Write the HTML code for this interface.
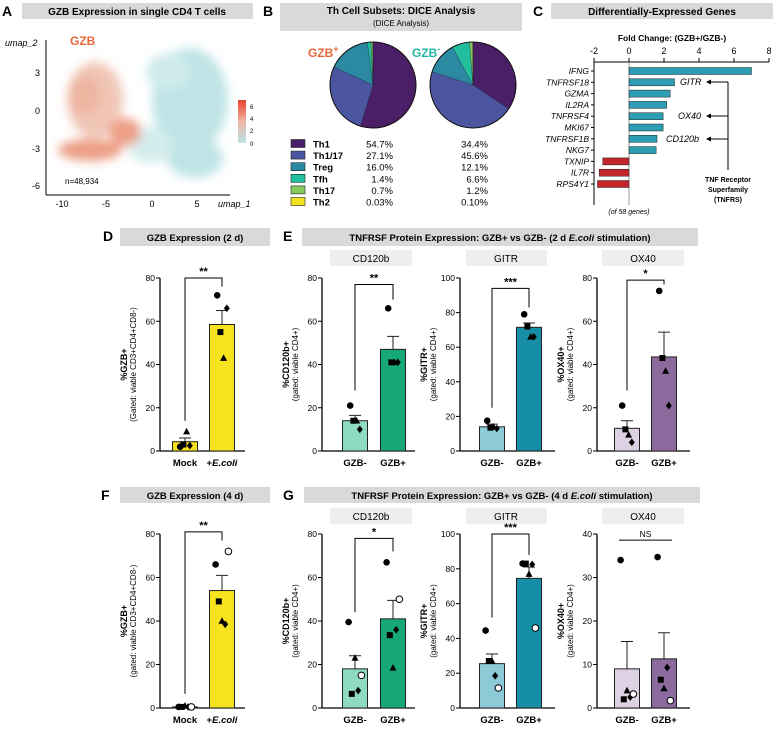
<!DOCTYPE html>
<html><head><meta charset="utf-8"><style>
html,body{margin:0;padding:0;background:#fff}
svg{display:block;font-family:"Liberation Sans",sans-serif}
</style></head><body>
<svg id="fig" width="780" height="729" viewBox="0 0 780 729" xmlns="http://www.w3.org/2000/svg">
<defs>
<filter id="blur" x="-30%" y="-30%" width="160%" height="160%"><feGaussianBlur stdDeviation="5"/></filter>
<linearGradient id="cbar" x1="0" y1="0" x2="0" y2="1"><stop offset="0" stop-color="#e8412c"/><stop offset="0.5" stop-color="#eeb5a4"/><stop offset="1" stop-color="#b9e3e6"/></linearGradient>
</defs>
<!-- Panel A -->
<text x="2" y="16" font-size="14" font-weight="bold">A</text>
<rect x="22" y="3" width="231" height="16" fill="#d9d9d9"/>
<text x="137" y="15" font-size="10" font-weight="bold" text-anchor="middle">GZB Expression in single CD4 T cells</text>
<g filter="url(#blur)">
<ellipse cx="190" cy="100" rx="38" ry="52" fill="#bfe4e6"/>
<ellipse cx="168" cy="72" rx="22" ry="18" fill="#cfeaeb"/>
<ellipse cx="195" cy="158" rx="28" ry="20" fill="#bfe4e6"/>
<ellipse cx="150" cy="145" rx="22" ry="18" fill="#d4ecec"/>
<ellipse cx="95" cy="100" rx="28" ry="38" fill="#f0c6b6"/>
<ellipse cx="90" cy="150" rx="32" ry="11" fill="#ec9f86"/>
<ellipse cx="125" cy="132" rx="16" ry="14" fill="#ee9f86"/>
<ellipse cx="85" cy="95" rx="16" ry="20" fill="#eeb5a0"/>
</g>
<line x1="46" y1="40" x2="46" y2="195" stroke="#000"/>
<line x1="46" y1="195" x2="230" y2="195" stroke="#000"/>
<g font-size="9" text-anchor="end">
<text x="40" y="76">3</text><text x="40" y="114">0</text><text x="40" y="152">-3</text><text x="40" y="189">-6</text></g>
<g font-size="9" text-anchor="middle">
<text x="62" y="207">-10</text><text x="106" y="207">-5</text><text x="152" y="207">0</text><text x="197" y="207">5</text></g>
<text x="5" y="46" font-size="9" font-style="italic">umap_2</text>
<text x="218" y="207" font-size="9" font-style="italic">umap_1</text>
<text x="70" y="45" font-size="12" font-weight="bold" fill="#e8663c">GZB</text>
<text x="65" y="184" font-size="8">n=48,934</text>
<rect x="238" y="100" width="8" height="43" fill="url(#cbar)"/>
<g font-size="6"><text x="250" y="109">6</text><text x="250" y="121">4</text><text x="250" y="133">2</text><text x="250" y="146">0</text></g>
<!-- Panel B -->
<text x="263" y="16" font-size="14" font-weight="bold">B</text>
<rect x="280" y="3" width="242" height="28" fill="#d9d9d9"/>
<text x="401" y="14" font-size="10" font-weight="bold" text-anchor="middle">Th Cell Subsets: DICE Analysis</text>
<text x="401" y="26" font-size="8" text-anchor="middle">(DICE Analysis)</text>
<text x="308" y="57" font-size="12" font-weight="bold" fill="#e8663c">GZB<tspan dy="-5" font-size="9">+</tspan></text>
<text x="412" y="57" font-size="12" font-weight="bold" fill="#1fb5a0">GZB<tspan dy="-5" font-size="9">-</tspan></text>
<g id="pies"></g>
<g id="legend"></g>
<!-- Panel C -->
<text x="533" y="16" font-size="14" font-weight="bold">C</text>
<rect x="551" y="3" width="222" height="16" fill="#d9d9d9"/>
<text x="662" y="15" font-size="10" font-weight="bold" text-anchor="middle">Differentially-Expressed Genes</text>
<text x="672" y="41" font-size="8.5" font-weight="bold" text-anchor="middle">Fold Change: (GZB+/GZB-)</text>
<g id="cchart"></g>
<text x="629" y="214" font-size="7" font-style="italic" text-anchor="middle">(of 58 genes)</text>
<g font-size="9" font-style="italic">
<text x="680" y="85">GITR</text><text x="678" y="119">OX40</text><text x="666" y="142">CD120b</text>
<line x1="728" y1="82" x2="728" y2="170" stroke="#000"/>
<line x1="728" y1="82" x2="710" y2="82" stroke="#000"/><path d="M706,82 l5,-2.5 v5z"/>
<line x1="728" y1="116" x2="710" y2="116" stroke="#000"/><path d="M706,116 l5,-2.5 v5z"/>
<line x1="728" y1="139" x2="710" y2="139" stroke="#000"/><path d="M706,139 l5,-2.5 v5z"/>
<g font-style="normal" font-weight="bold" font-size="7" text-anchor="middle"><text x="728" y="182">TNF Receptor</text><text x="728" y="192">Superfamily</text><text x="728" y="202">(TNFRS)</text></g>
</g>
<!-- D/E -->
<text x="103" y="241" font-size="14" font-weight="bold">D</text>
<rect x="120" y="228" width="150" height="18" fill="#d9d9d9"/>
<text x="195" y="241" font-size="9.5" font-weight="bold" text-anchor="middle">GZB Expression (2 d)</text>
<text x="283" y="241" font-size="14" font-weight="bold">E</text>
<rect x="302" y="228" width="396" height="18" fill="#d9d9d9"/>
<text x="500" y="241" font-size="9.5" font-weight="bold" text-anchor="middle">TNFRSF Protein Expression: GZB+ vs GZB- (2 d <tspan font-style="italic">E.coli</tspan> stimulation)</text>
<rect x="330" y="250" width="82" height="16" fill="#eeeeee"/>
<text x="371" y="262" font-size="10" text-anchor="middle">CD120b</text>
<rect x="466" y="250" width="81" height="16" fill="#eeeeee"/>
<text x="506" y="262" font-size="10" text-anchor="middle">GITR</text>
<rect x="602" y="250" width="82" height="16" fill="#eeeeee"/>
<text x="643" y="262" font-size="10" text-anchor="middle">OX40</text>
<!-- F/G -->
<text x="101" y="500" font-size="14" font-weight="bold">F</text>
<rect x="120" y="487" width="150" height="16" fill="#d9d9d9"/>
<text x="195" y="499" font-size="9.5" font-weight="bold" text-anchor="middle">GZB Expression (4 d)</text>
<text x="283" y="500" font-size="14" font-weight="bold">G</text>
<rect x="304" y="487" width="396" height="16" fill="#d9d9d9"/>
<text x="502" y="499" font-size="9.5" font-weight="bold" text-anchor="middle">TNFRSF Protein Expression: GZB+ vs GZB- (4 d <tspan font-style="italic">E.coli</tspan> stimulation)</text>
<rect x="330" y="508" width="82" height="16" fill="#eeeeee"/>
<text x="371" y="520" font-size="10" text-anchor="middle">CD120b</text>
<rect x="466" y="508" width="81" height="16" fill="#eeeeee"/>
<text x="506" y="520" font-size="10" text-anchor="middle">GITR</text>
<rect x="602" y="508" width="82" height="16" fill="#eeeeee"/>
<text x="643" y="520" font-size="10" text-anchor="middle">OX40</text>
<g id="bars"></g>
</svg>
<script>
const NS='http://www.w3.org/2000/svg';
// Pie data
const subsets=['Th1','Th1/17','Treg','Tfh','Th17','Th2'];
const gzbPos=[54.7,27.1,16.0,1.4,0.7,0.03];
const gzbNeg=[34.4,45.6,12.1,6.6,1.2,0.10];
const posLabels=['54.7%','27.1%','16.0%','1.4%','0.7%','0.03%'];
const negLabels=['34.4%','45.6%','12.1%','6.6%','1.2%','0.10%'];
const subsetColors=['#4b1e68','#4c56a0','#2b8aa2','#22bf9e','#86c95c','#f3e31f'];
// DEG data
const genes=['IFNG','TNFRSF18','GZMA','IL2RA','TNFRSF4','MKI67','TNFRSF1B','NKG7','TXNIP','IL7R','RPS4Y1'];
const foldChange=[7.0,2.6,2.35,2.15,1.95,1.95,1.6,1.55,-1.5,-1.7,-1.8];
const fcTicks=[-2,0,2,4,6,8];
// Bar panels data
const dCats=['Mock','+E.coli'];const dMeans=[4.3,58.5];const dErr=[6,65];const dPts=[[2,3,9,2.5],[72,55,43,66]];
const eCats=['GZB-','GZB+'];
const e1Means=[14,47];const e1Err=[16.5,53];const e1Pts=[[21,14,14,10],[66,41,41,41]];
const e2Means=[14,71.5];const e2Err=[15.5,74];const e2Pts=[[17.5,13.5,14,13],[79,72,66,66]];
const e3Means=[10.5,43.5];const e3Err=[14,55];const e3Pts=[[21,10,7.5,4],[74,43,37,21]];
const fMeans=[0.5,54];const fErr=[1,61];const fPts=[[0.5,0.5,1,0.5,0.5],[66,49,40,38.5,72]];
const g1Means=[18,41];const g1Err=[24,49.5];const g1Pts=[[39.5,6.5,23,8,15],[67,33.5,18.5,36,50]];
const g2Means=[25.5,74.5];const g2Err=[31,81];const g2Pts=[[44.5,27,27,18.5,11.5],[83,83,77,82.5,46]];
const g3Means=[9,11.3];const g3Err=[15.3,17.3];const g3Pts=[[34,2,4,2.5,3.2],[34.7,6.5,4.5,9.3,1.7]];
const shapes4=['circle','square','triangle','diamond'];
const shapes5=['circle','square','triangle','diamond','open'];

function el(tag,attrs,parent){const e=document.createElementNS(NS,tag);for(const k in attrs)e.setAttribute(k,attrs[k]);(parent||document.getElementById('fig')).appendChild(e);return e;}

// Pies
const pies=document.getElementById('pies');
function drawPie(vals,cx,cy,r,name){
  const tot=vals.reduce((a,b)=>a+b,0);let a0=0;
  vals.forEach((v,i)=>{
    const a1=a0+v/tot*2*Math.PI;
    const x0=cx+r*Math.sin(a0),y0=cy-r*Math.cos(a0),x1=cx+r*Math.sin(a1),y1=cy-r*Math.cos(a1);
    const p=el('path',{d:`M${cx},${cy}L${x0},${y0}A${r},${r} 0 ${a1-a0>Math.PI?1:0} 1 ${x1},${y1}Z`,fill:subsetColors[i],stroke:'#1a1a2a','stroke-width':0.3},pies);
    
    
    a0=a1;});
  const c=el('circle',{cx:cx,cy:cy,r:r,fill:'none',stroke:'#111','stroke-width':1},pies);
  
  
}
drawPie(gzbPos,373,85,43,'pie-gzbpos');
drawPie(gzbNeg,473,85,43,'pie-gzbneg');
const leg=document.getElementById('legend');
subsets.forEach((s,i)=>{
  const y=144+i*11.6;
  const r=el('rect',{x:291,y:y-4.5,width:14,height:8,fill:subsetColors[i],stroke:'#222','stroke-width':0.6},leg);
  
  
  const t=el('text',{x:313,y:y+3.5,'font-size':9.5,'font-weight':'bold'},leg);t.textContent=s;
  
  
  const v1=el('text',{x:393,y:y+3.5,'font-size':9.5,'text-anchor':'end'},leg);v1.textContent=posLabels[i];
  
  
  const v2=el('text',{x:488,y:y+3.5,'font-size':9.5,'text-anchor':'end'},leg);v2.textContent=negLabels[i];
  
  
});

// C chart
const cg=document.getElementById('cchart');
const fx=v=>629+v*17.5;const rowY=i=>71+i*11.3;
const ax=el('line',{x1:fx(-2),y1:62,x2:fx(8),y2:62,stroke:'#000'},cg);


fcTicks.forEach(t=>{
  const l=el('line',{x1:fx(t),y1:58,x2:fx(t),y2:62,stroke:'#000'},cg);
  
  
  const tx=el('text',{x:fx(t),y:54,'font-size':9,'text-anchor':'middle'},cg);tx.textContent=t;
  
  
});
const la=el('line',{x1:fx(-2),y1:62,x2:fx(-2),y2:205,stroke:'#000'},cg);


const zl=el('line',{x1:fx(0),y1:62,x2:fx(0),y2:205,stroke:'#999'},cg);


genes.forEach((g,i)=>{
  const y=rowY(i),v=foldChange[i];
  const b=el('rect',{x:Math.min(fx(0),fx(v)),y:y-3.5,width:Math.abs(fx(v)-fx(0)),height:7,fill:v>0?'#2c9db2':'#c2262b',stroke:'#222','stroke-width':0.5},cg);
  
  
  const tk=el('line',{x1:fx(-2)-3,y1:y,x2:fx(-2),y2:y,stroke:'#000'},cg);
  
  
  const t=el('text',{x:fx(-2)-5,y:y+3,'font-size':8.5,'font-style':'italic','text-anchor':'end'},cg);t.textContent=g;
  
  
});

// Bar panels
const bg=document.getElementById('bars');
function marker(shape,x,y,g){
  let m;
  if(shape==='circle')m=el('circle',{cx:x,cy:y,r:3.3,fill:'#000'},g);
  else if(shape==='open')m=el('circle',{cx:x,cy:y,r:3.3,fill:'#fff',stroke:'#000','stroke-width':1},g);
  else if(shape==='square')m=el('rect',{x:x-3,y:y-3,width:6,height:6,fill:'#000'},g);
  else if(shape==='triangle')m=el('path',{d:`M${x},${y-3.8}L${x+3.5},${y+2.8}L${x-3.5},${y+2.8}Z`,fill:'#000'},g);
  else m=el('path',{d:`M${x},${y-3.8}L${x+3},${y}L${x},${y+3.8}L${x-3},${y}Z`,fill:'#000'},g);
  
  
}
function panel(o){
  const g=el('g',{},bg);
  
  
  const sy=v=>o.y0-(v/o.max)*(o.y0-o.yTop);
  const yl=el('line',{x1:o.ax,y1:o.yTop,x2:o.ax,y2:o.y0,stroke:'#000','stroke-width':1.3},g);
  
  
  const xl=el('line',{x1:o.ax,y1:o.y0,x2:o.axEnd,y2:o.y0,stroke:'#000','stroke-width':1.3},g);
  
  
  o.ticks.forEach(t=>{
    const tl=el('line',{x1:o.ax-4,y1:sy(t),x2:o.ax,y2:sy(t),stroke:'#000'},g);
    
    
    const tt=el('text',{x:o.ax-5,y:sy(t)+3,'font-size':8.5,'text-anchor':'end'},g);tt.textContent=t;
    
    
  });
  o.means.forEach((m,i)=>{
    const cx=o.cx[i];
    const b=el('rect',{x:cx-12.5,y:sy(m),width:25,height:o.y0-sy(m),fill:o.colors[i],stroke:'#222','stroke-width':1},g);
    
    
    const e=el('path',{d:`M${cx},${sy(m)}V${sy(o.err[i])}M${cx-6},${sy(o.err[i])}H${cx+6}`,stroke:'#222',fill:'none','stroke-width':1},g);
    
    
    o.pts[i].forEach((p,j)=>{const off=(j-(o.pts[i].length-1)/2)*3.2;marker(o.shapes[j],cx+off,sy(p),g);});
    const xt=el('text',{x:cx,y:o.y0+15,'font-size':9.5,'font-weight':'bold','text-anchor':'middle'},g);
    xt.textContent=o.cats[i];
    if(o.cats[i]==='+E.coli'){xt.textContent='';const a=el('tspan',{},xt);a.textContent='+';const b2=el('tspan',{'font-style':'italic'},xt);b2.textContent='E.coli';}
    
    
  });
  const bt=sy(o.brTop);
  const d=o.legs?`M${o.cx[0]},${sy(o.legs[0])}V${bt}H${o.cx[1]}V${sy(o.legs[1])}`:`M${o.cx[0]-8},${bt}H${o.cx[1]+8}`;
  const br=el('path',{d:d,stroke:'#000',fill:'none','stroke-width':1},g);
  
  
  const st=el('text',{x:(o.cx[0]+o.cx[1])/2,y:bt-3,'font-size':o.sig==='NS'?8.5:11,'text-anchor':'middle','font-weight':o.sig==='NS'?'normal':'bold'},g);
  st.textContent=o.sig;
  
  
  const t1=el('text',{x:0,y:0,'font-size':9,'font-weight':'bold','text-anchor':'middle',transform:`translate(${o.ax-33},${(o.y0+o.yTop)/2}) rotate(-90)`},g);
  t1.textContent=o.yt1;
  
  
  const t2=el('text',{x:0,y:0,'font-size':8,'text-anchor':'middle',transform:`translate(${o.ax-24},${(o.y0+o.yTop)/2}) rotate(-90)`},g);
  t2.textContent=o.yt2;
  
  
}
const Y0a=451,YTa=278,Y0b=708,YTb=534;
panel({name:'d-gzb',ax:160,axEnd:245,cx:[185,222],y0:Y0a,yTop:YTa,max:80,ticks:[0,20,40,60,80],cats:dCats,means:dMeans,err:dErr,pts:dPts,shapes:shapes4,colors:['#f7e21e','#f7e21e'],sig:'**',brTop:80,legs:[14,76],yt1:'%GZB+',yt2:'(Gated: viable CD3+CD4+CD8-)'});
panel({name:'e-cd120b',ax:322,axEnd:415,cx:[355,393],y0:Y0a,yTop:YTa,max:80,ticks:[0,20,40,60,80],cats:eCats,means:e1Means,err:e1Err,pts:e1Pts,shapes:shapes4,colors:['#8edbc2','#17a879'],sig:'**',brTop:77,legs:[28,70],yt1:'%CD120b+',yt2:'(gated: viable CD4+)'});
panel({name:'e-gitr',ax:460,axEnd:555,cx:[492,529],y0:Y0a,yTop:YTa,max:100,ticks:[0,20,40,60,80,100],cats:eCats,means:e2Means,err:e2Err,pts:e2Pts,shapes:shapes4,colors:['#8dcad7','#168fa6'],sig:'***',brTop:94,legs:[25,83],yt1:'%GITR+',yt2:'(gated: viable CD4+)'});
panel({name:'e-ox40',ax:597,axEnd:690,cx:[627,664],y0:Y0a,yTop:YTa,max:80,ticks:[0,20,40,60,80],cats:eCats,means:e3Means,err:e3Err,pts:e3Pts,shapes:shapes4,colors:['#ddd2e4','#8c6a9e'],sig:'*',brTop:79,legs:[28,77],yt1:'%OX40+',yt2:'(gated: viable CD4+)'});
panel({name:'f-gzb',ax:160,axEnd:245,cx:[185,222],y0:Y0b,yTop:YTb,max:80,ticks:[0,20,40,60,80],cats:dCats,means:fMeans,err:fErr,pts:fPts,shapes:shapes5,colors:['#f7e21e','#f7e21e'],sig:'**',brTop:81,legs:[6.5,77],yt1:'%GZB+',yt2:'(gated: viable CD3+CD4+CD8-)'});
panel({name:'g-cd120b',ax:322,axEnd:415,cx:[355,393],y0:Y0b,yTop:YTb,max:80,ticks:[0,20,40,60,80],cats:eCats,means:g1Means,err:g1Err,pts:g1Pts,shapes:shapes5,colors:['#8edbc2','#17a879'],sig:'*',brTop:78,legs:[44,72],yt1:'%CD120b+',yt2:'(gated: viable CD4+)'});
panel({name:'g-gitr',ax:460,axEnd:555,cx:[492,529],y0:Y0b,yTop:YTb,max:100,ticks:[0,20,40,60,80,100],cats:eCats,means:g2Means,err:g2Err,pts:g2Pts,shapes:shapes5,colors:['#8dcad7','#168fa6'],sig:'***',brTop:100,legs:[52,88],yt1:'%GITR+',yt2:'(gated: viable CD4+)'});
panel({name:'g-ox40',ax:597,axEnd:690,cx:[627,664],y0:Y0b,yTop:YTb,max:40,ticks:[0,10,20,30,40],cats:eCats,means:g3Means,err:g3Err,pts:g3Pts,shapes:shapes5,colors:['#ddd2e4','#8c6a9e'],sig:'NS',brTop:38.6,legs:null,yt1:'%OX40+',yt2:'(gated: viable CD4+)'});
</script>
</body></html>
